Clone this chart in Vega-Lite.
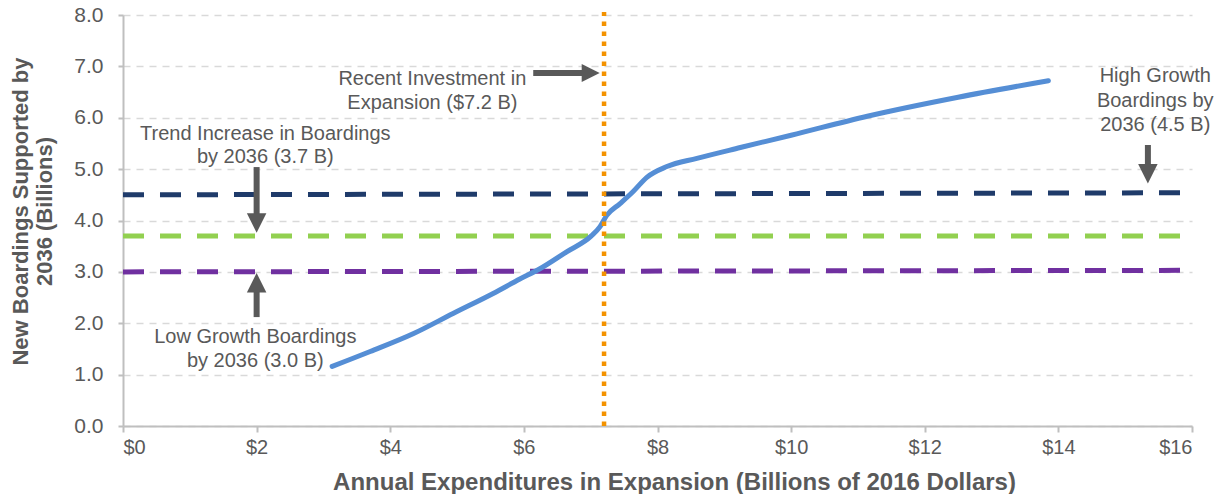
{
  "$schema": "https://vega.github.io/schema/vega-lite/v6.json",
  "width": 1069,
  "height": 411,
  "autosize": {"type": "none"},
  "padding": {"left": 123, "top": 15, "right": 33, "bottom": 68},
  "background": "white",
  "config": {
    "view": {"stroke": null},
    "font": "Liberation Sans",
    "axis": {
      "labelFont": "Liberation Sans",
      "titleFont": "Liberation Sans",
      "labelColor": "#595959",
      "titleColor": "#595959",
      "labelFontSize": 20,
      "titleFontSize": 22,
      "titleFontWeight": "bold",
      "domainColor": "#BFBFBF",
      "domainWidth": 2,
      "tickColor": "#BFBFBF",
      "tickWidth": 2
    }
  },
  "datasets": {
    "targets": [
      {"series": "High", "x": 0, "y": 4.5},
      {"series": "High", "x": 16, "y": 4.54},
      {"series": "Trend", "x": 0, "y": 3.7},
      {"series": "Trend", "x": 16, "y": 3.7},
      {"series": "Low", "x": 0, "y": 3.0},
      {"series": "Low", "x": 16, "y": 3.03}
    ],
    "curve": [
      {"x": 3.13, "y": 1.16},
      {"x": 3.7, "y": 1.45},
      {"x": 4.35, "y": 1.8},
      {"x": 4.94, "y": 2.19},
      {"x": 5.54, "y": 2.58},
      {"x": 5.94, "y": 2.86},
      {"x": 6.24, "y": 3.06},
      {"x": 6.64, "y": 3.39},
      {"x": 7.01, "y": 3.7},
      {"x": 7.14, "y": 3.88},
      {"x": 7.24, "y": 4.1},
      {"x": 7.44, "y": 4.33},
      {"x": 7.64, "y": 4.57},
      {"x": 7.84, "y": 4.84},
      {"x": 8.14, "y": 5.05},
      {"x": 8.59, "y": 5.21},
      {"x": 9.24, "y": 5.42},
      {"x": 10.0, "y": 5.66},
      {"x": 11.14, "y": 6.03},
      {"x": 12.5, "y": 6.4},
      {"x": 13.85, "y": 6.72}
    ],
    "investment": [{"x": 7.2, "y": 0, "y2": 8.06}],
    "shafts": [
      {"x": 6.14, "x2": 7.0, "y": 6.87, "y2": 6.87},
      {"x": 2.0, "x2": 2.0, "y": 5.04, "y2": 3.97},
      {"x": 2.0, "x2": 2.0, "y": 2.12, "y2": 2.78},
      {"x": 15.34, "x2": 15.34, "y": 5.47, "y2": 4.92}
    ],
    "headsRight": [{"x": 7.0, "y": 6.87}],
    "headsDown": [{"x": 2.0, "y": 3.95}, {"x": 15.34, "y": 4.91}],
    "headsUp": [{"x": 2.0, "y": 2.79}],
    "labels": [
      {"x": 4.63, "y": 6.63, "text": "Recent Investment in"},
      {"x": 4.63, "y": 6.18, "text": "Expansion ($7.2 B)"},
      {"x": 2.13, "y": 5.56, "text": "Trend Increase in Boardings"},
      {"x": 2.13, "y": 5.12, "text": "by 2036 (3.7 B)"},
      {"x": 1.98, "y": 1.61, "text": "Low Growth Boardings"},
      {"x": 1.98, "y": 1.15, "text": "by 2036 (3.0 B)"},
      {"x": 15.45, "y": 6.69, "text": "High Growth"},
      {"x": 15.45, "y": 6.21, "text": "Boardings by"},
      {"x": 15.45, "y": 5.74, "text": "2036 (4.5 B)"}
    ]
  },
  "layer": [
    {
      "data": {"name": "targets"},
      "mark": {"type": "line", "strokeWidth": 5, "strokeDash": [21, 16], "clip": false},
      "encoding": {
        "x": {
          "field": "x", "type": "quantitative",
          "scale": {"domain": [0, 16], "nice": false},
          "axis": {
            "values": [0, 2, 4, 6, 8, 10, 12, 14, 16],
            "labelExpr": "'$' + datum.value",
            "grid": false,
            "tickSize": 6,
            "labelPadding": 5,
            "title": "Annual Expenditures in Expansion (Billions of 2016 Dollars)",
            "titleFontSize": 24,
            "titleX": 551,
            "titleY": 63,
            "titleAlign": "center",
            "titleBaseline": "alphabetic",
            "titleAnchor": null
          }
        },
        "y": {
          "field": "y", "type": "quantitative",
          "scale": {"domain": [0, 8], "nice": false},
          "axis": {
            "values": [0, 1, 2, 3, 4, 5, 6, 7, 8],
            "format": ".1f",
            "grid": true,
            "gridColor": "#D9D9D9",
            "gridDash": [7, 6],
            "gridWidth": 1.5,
            "tickSize": 5,
            "labelPadding": 15,
            "labelFontSize": 21,
            "title": ["New Boardings Supported by", "2036 (Billions)"],
            "titleFontSize": 22,
            "titleX": -103,
            "titleY": 196,
            "titleAngle": 270,
            "titleAlign": "center",
            "titleBaseline": "middle",
            "titleLineHeight": 24
          }
        },
        "color": {
          "field": "series", "type": "nominal",
          "scale": {"domain": ["High", "Trend", "Low"], "range": ["#1F3B6A", "#92D050", "#7030A0"]},
          "legend": null
        },
        "detail": {"field": "series"}
      }
    },
    {
      "data": {"name": "curve"},
      "mark": {"type": "line", "color": "#558ED5", "strokeWidth": 5, "interpolate": "monotone", "strokeCap": "round"},
      "encoding": {
        "x": {"field": "x", "type": "quantitative"},
        "y": {"field": "y", "type": "quantitative"}
      }
    },
    {
      "data": {"name": "investment"},
      "mark": {"type": "rule", "color": "#F39200", "strokeWidth": 4.5, "strokeDash": [4.5, 5.5]},
      "encoding": {
        "x": {"field": "x", "type": "quantitative"},
        "y": {"field": "y", "type": "quantitative"},
        "y2": {"field": "y2"}
      }
    },
    {
      "data": {"name": "shafts"},
      "mark": {"type": "rule", "color": "#595959", "strokeWidth": 6},
      "encoding": {
        "x": {"field": "x", "type": "quantitative"},
        "x2": {"field": "x2"},
        "y": {"field": "y", "type": "quantitative"},
        "y2": {"field": "y2"}
      }
    },
    {
      "data": {"name": "headsRight"},
      "mark": {"type": "point", "shape": "M-1,-1L1,0L-1,1Z", "filled": true, "color": "#595959", "opacity": 1, "size": 324},
      "encoding": {
        "x": {"field": "x", "type": "quantitative"},
        "y": {"field": "y", "type": "quantitative"}
      }
    },
    {
      "data": {"name": "headsDown"},
      "mark": {"type": "point", "shape": "M-1,-1L1,-1L0,1Z", "filled": true, "color": "#595959", "opacity": 1, "size": 380},
      "encoding": {
        "x": {"field": "x", "type": "quantitative"},
        "y": {"field": "y", "type": "quantitative"}
      }
    },
    {
      "data": {"name": "headsUp"},
      "mark": {"type": "point", "shape": "M-1,1L1,1L0,-1Z", "filled": true, "color": "#595959", "opacity": 1, "size": 380},
      "encoding": {
        "x": {"field": "x", "type": "quantitative"},
        "y": {"field": "y", "type": "quantitative"}
      }
    },
    {
      "data": {"name": "labels"},
      "mark": {"type": "text", "align": "center", "baseline": "alphabetic", "fontSize": 20, "color": "#595959", "font": "Liberation Sans"},
      "encoding": {
        "x": {"field": "x", "type": "quantitative"},
        "y": {"field": "y", "type": "quantitative"},
        "text": {"field": "text", "type": "nominal"}
      }
    }
  ]
}
